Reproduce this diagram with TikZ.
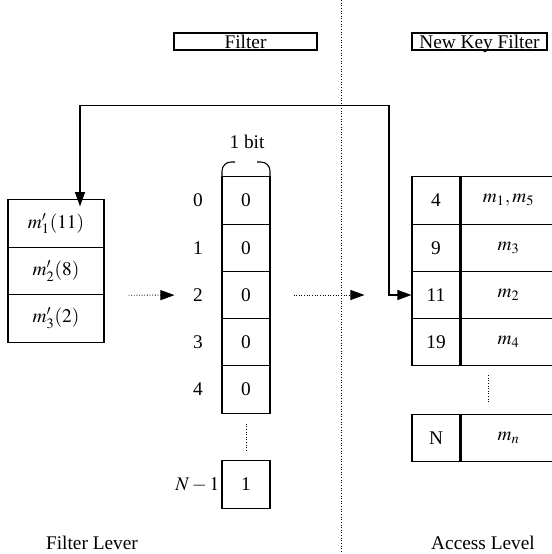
\documentclass[tikz,border=0pt]{standalone}
\usepackage{amsmath,amssymb}
\usepackage{mathptmx}
\usepackage{fontspec}
\setmainfont{Liberation Serif}
\usetikzlibrary{arrows.meta}

\begin{document}
\begin{tikzpicture}[
    font=\fontsize{11}{13}\selectfont,
    cell/.style={draw, line width=0.6pt, minimum width=0.96cm, minimum height=0.945cm, inner sep=0pt},
    mcell/.style={cell, minimum width=1.92cm, minimum height=0.95cm},
    vcell/.style={cell, minimum width=1.9cm},
    head/.style={draw, line width=0.6pt, minimum height=0.34cm, inner sep=0pt, text height=7.6pt, text depth=0pt},
    link/.style={line width=0.6pt, {Triangle[length=0.28cm, width=0.2cm]}-{Triangle[length=0.28cm, width=0.2cm]}},
    dotlink/.style={line width=0.5pt, densely dotted, -{Triangle[length=0.28cm, width=0.2cm]}}
]
    \useasboundingbox (0,0) rectangle (11.04,-11.08);
    \clip (0,0) rectangle (11.04,-11.08);

    % Headers
    \node[head, minimum width=2.86cm] (filter) at (4.91,-0.83) {Filter};
    \node[head, minimum width=2.7cm] (newkey) at (9.59,-0.83) {New Key Filter};

    % Divider
    \draw[line width=0.5pt, densely dotted] (6.82,0) -- (6.82,-11.08);

    % Incoming keys
    \node[mcell] (m1) at (1.12,-4.47) {$m'_1(11)$};
    \node[mcell] (m2) at (1.12,-5.42) {$m'_2(8)$};
    \node[mcell] (m3) at (1.12,-6.37) {$m'_3(2)$};

    % Bit array
    \node at (4.94,-2.84) {1 bit};
    \draw[line width=0.6pt] (4.44,-3.54) -- (4.44,-3.42) arc[start angle=180, end angle=90, radius=0.18] -- (4.70,-3.24);
    \draw[line width=0.6pt] (5.14,-3.24) -- (5.22,-3.24) arc[start angle=90, end angle=0, radius=0.18] -- (5.40,-3.54);
    \node[cell] (b0) at (4.92,-4.01) {0};
    \node[cell] (b1) at (4.92,-4.955) {0};
    \node[cell] (b2) at (4.92,-5.90) {0};
    \node[cell] (b3) at (4.92,-6.845) {0};
    \node[cell] (b4) at (4.92,-7.79) {0};
    \node[cell] (bn) at (4.92,-9.69) {1};
    \draw[line width=0.5pt, densely dotted] (b4.south) ++(0,-0.2) -- ++(0,-0.54);

    % Bit indices
    \node (i0) at (3.96,-4.01) {0};
    \node (i1) at (3.96,-4.955) {1};
    \node (i2) at (3.96,-5.90) {2};
    \node (i3) at (3.96,-6.845) {3};
    \node (i4) at (3.96,-7.79) {4};
    \node[anchor=east, inner sep=1pt] (in) at (bn.west) {$N-1$};

    % Access table
    \node[cell] (k0) at (8.72,-4.01) {4};
    \node[cell] (k1) at (8.72,-4.955) {9};
    \node[cell] (k2) at (8.72,-5.90) {11};
    \node[cell] (k3) at (8.72,-6.845) {19};
    \node[cell] (kn) at (8.72,-8.76) {N};
    \node[vcell, anchor=west] (v0) at (k0.east) {$m_1,m_5$};
    \node[vcell, anchor=west] (v1) at (k1.east) {$m_3$};
    \node[vcell, anchor=west] (v2) at (k2.east) {$m_2$};
    \node[vcell, anchor=west] (v3) at (k3.east) {$m_4$};
    \node[vcell, anchor=west] (vn) at (kn.east) {$m_n$};
    \draw[line width=0.5pt, densely dotted] (9.76,-7.50) -- (9.76,-8.06);

    % Level labels
    \node (flevel) at (1.84,-10.86) {Filter Lever};
    \node (alevel) at (9.66,-10.86) {Access Level};

    % Arrows
    \coordinate (turn) at (7.78,-2.11);
    \draw[link, shorten <=-0.14cm] ([xshift=0.48cm]m1.north) |- (turn) |- (k2.west);
    \draw[dotlink, shorten <=0.48cm, shorten >=0.94cm] (m2.south east) -- (b2.west);
    \draw[dotlink, shorten <=0.46cm, shorten >=0.94cm] (b2.east) -- (k2.west);
\end{tikzpicture}
\end{document}
